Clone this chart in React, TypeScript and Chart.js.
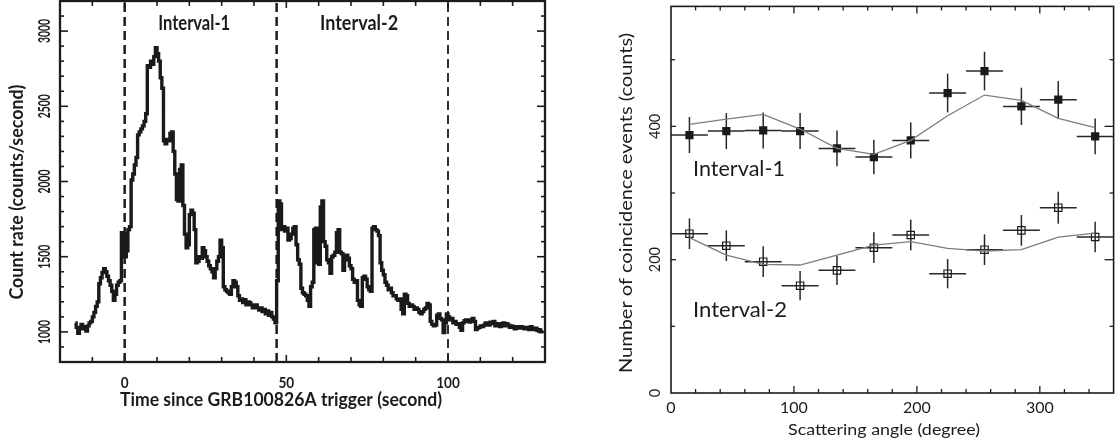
import React, { useEffect, useRef } from 'react';
import { Chart, registerables } from 'chart.js';
Chart.register(...registerables);

// ---------------- Left panel: light curve ----------------
const LC_FIRST_BIN_CENTER = -15.25; // seconds
const LC_BIN_WIDTH = 0.5; // seconds
const LC_RATE = [
  1060, 1030, 990, 1020, 1050, 1020, 1035, 1005, 1040, 1060, // -15 .. -11
  1070, 1100, 1130, 1170, 1200, 1320, 1360, 1395, 1420, 1400, // -10 .. -6
  1370, 1340, 1310, 1270, 1210, 1250, 1310, 1330, 1340, 1660, // -5 .. -1
  1650, 1500, 1540, 1680, 1700, 2010, 2050, 2110, 2160, 2310, // 0 .. 4
  2330, 2350, 2370, 2400, 2450, 2770, 2760, 2800, 2780, 2830, // 5 .. 9
  2890, 2850, 2800, 2690, 2620, 2270, 2250, 2280, 2270, 2320, // 10 .. 14
  2330, 2200, 2050, 1880, 1870, 2080, 2110, 1840, 1650, 1560, // 15 .. 19
  1580, 1780, 1810, 1790, 1680, 1460, 1470, 1500, 1490, 1560, // 20 .. 24
  1540, 1500, 1470, 1440, 1420, 1400, 1360, 1420, 1470, 1500, // 25 .. 29
  1610, 1560, 1300, 1280, 1270, 1260, 1250, 1300, 1340, 1330, // 30 .. 34
  1300, 1240, 1210, 1220, 1195, 1215, 1180, 1200, 1195, 1180, // 35 .. 39
  1160, 1175, 1180, 1160, 1145, 1160, 1135, 1150, 1120, 1140, // 40 .. 44
  1110, 1130, 1100, 1085, 1060, 1340, 1870, 1850, 1680, 1700, // 45 .. 49
  1670, 1690, 1610, 1620, 1650, 1690, 1700, 1580, 1480, 1450, // 50 .. 54
  1290, 1260, 1250, 1240, 1210, 1170, 1300, 1330, 1680, 1690, // 55 .. 59
  1460, 1450, 1830, 1870, 1600, 1570, 1480, 1460, 1390, 1500, // 60 .. 64
  1510, 1530, 1660, 1680, 1530, 1520, 1410, 1480, 1510, 1490, // 65 .. 69
  1440, 1420, 1350, 1330, 1340, 1210, 1180, 1170, 1360, 1370, // 70 .. 74
  1350, 1300, 1280, 1270, 1690, 1700, 1680, 1670, 1640, 1460, // 75 .. 79
  1410, 1380, 1330, 1310, 1280, 1290, 1260, 1240, 1240, 1220, // 80 .. 84
  1210, 1220, 1150, 1120, 1250, 1240, 1190, 1170, 1180, 1170, // 85 .. 89
  1150, 1160, 1150, 1130, 1120, 1135, 1150, 1160, 1190, 1180, // 90 .. 94
  1070, 1050, 1040, 1045, 1110, 1120, 1090, 1080, 995, 1060, // 95 .. 99
  1120, 1100, 1080, 1090, 1060, 1070, 1050, 1055, 1030, 1010, // 100 .. 104
  1060, 1075, 1080, 1070, 1065, 1080, 1090, 1070, 1015, 1025, // 105 .. 109
  1030, 1040, 1035, 1045, 1060, 1050, 1045, 1065, 1055, 1070, // 110 .. 114
  1040, 1050, 1055, 1035, 1045, 1060, 1040, 1055, 1045, 1030, // 115 .. 119
  1040, 1030, 1020, 1035, 1030, 1025, 1035, 1025, 1020, 1030, // 120 .. 124
  1025, 1015, 1035, 1020, 1015, 1025, 1010, 1015, 1000, 1010, // 125 .. 129
];
const INTERVAL_BOUNDS = [0, 47, 100];
const INTERVAL_NAMES = ['Interval-1', 'Interval-2'];
const LC_X_LABELS = [0, 50, 100];
const LC_Y_LABELS = [1000, 1500, 2000, 2500, 3000];
const LC_X_RANGE = [-20, 130];
const LC_Y_RANGE = [800, 3200];

// ---------------- Right panel: modulation curves ----------------
const ANGLES = [15, 45, 75, 105, 135, 165, 195, 225, 255, 285, 315, 345];
const ANGLE_HALF_BIN = 15;
const INT1_COUNTS = [387, 393, 394, 393, 367, 354, 379, 450, 483, 430, 440, 385];
const INT1_ERR = [27, 27, 27, 27, 27, 26, 27, 29, 29, 28, 28, 27];
const INT1_MODEL = [403, 411, 418, 396, 367, 358, 379, 416, 447, 439, 412, 398];
const INT2_COUNTS = [239, 221, 197, 161, 184, 218, 237, 179, 215, 244, 278, 234];
const INT2_ERR = [23, 23, 23, 22, 22, 23, 23, 22, 23, 23, 24, 23];
const INT2_MODEL = [233, 207, 193, 192, 207, 222, 227, 217, 213, 215, 234, 240];
const POL_X_LABELS = [0, 100, 200, 300];
const POL_Y_LABELS = [0, 200, 400];
const POL_X_RANGE = [0, 360];
const POL_Y_RANGE = [0, 580];

const INK = '#1e1b1c';

type TxtOpt = { align?: CanvasTextAlign; rot?: number; sx?: number; w?: number; color?: string };
function txt(ctx: CanvasRenderingContext2D, s: string, x: number, y: number, font: string, o: TxtOpt = {}) {
  ctx.save();
  ctx.font = font;
  ctx.translate(x, y);
  if (o.rot) ctx.rotate(o.rot);
  let sx = o.sx ?? 1;
  if (o.w) sx = o.w / ctx.measureText(s).width;
  ctx.scale(sx, 1);
  ctx.textAlign = o.align ?? 'center';
  ctx.textBaseline = 'alphabetic';
  ctx.fillStyle = o.color ?? INK;
  ctx.fillText(s, 0, 0);
  ctx.restore();
}
function seg(ctx: CanvasRenderingContext2D, x1: number, y1: number, x2: number, y2: number) {
  ctx.beginPath();
  ctx.moveTo(x1, y1);
  ctx.lineTo(x2, y2);
  ctx.stroke();
}

const lcDecor = {
  id: 'lcDecor',
  afterDraw(chart: any) {
    const { ctx, chartArea: a } = chart;
    const x = chart.scales.x;
    const y = chart.scales.y;
    ctx.save();
    ctx.strokeStyle = INK;
    ctx.lineWidth = 1.6;
    for (let t = -10; t < LC_X_RANGE[1]; t += 10) {
      const px = x.getPixelForValue(t);
      const L = t % 50 === 0 ? 7 : 5;
      seg(ctx, px, a.bottom, px, a.bottom - L);
      seg(ctx, px, a.top, px, a.top + L);
    }
    for (let v = 900; v < LC_Y_RANGE[1]; v += 100) {
      const py = y.getPixelForValue(v);
      const L = v % 500 === 0 ? 8 : 4;
      seg(ctx, a.left, py, a.left + L, py);
      seg(ctx, a.right, py, a.right - L, py);
    }
    ctx.lineWidth = 2.3;
    ctx.strokeRect(a.left, a.top, a.right - a.left, a.bottom - a.top);
    ctx.restore();

    for (const t of LC_X_LABELS) {
      txt(ctx, String(t), x.getPixelForValue(t), 388, 'bold 16px Lato', { sx: 0.85 });
    }
    for (const v of LC_Y_LABELS) {
      txt(ctx, String(v), 50, y.getPixelForValue(v), 'bold 17px Lato', { rot: -Math.PI / 2, w: 24 });
    }
    txt(ctx, 'Time since GRB100826A trigger (second)', 281, 406, 'bold 18px Lato', { w: 322 });
    txt(ctx, 'Count rate (counts/second)', 23, 192, 'bold 18px Lato', { rot: -Math.PI / 2, w: 215 });
    const mids = [x.getPixelForValue(21.5), x.getPixelForValue(72.5)];
    txt(ctx, INTERVAL_NAMES[0], mids[0], 30, 'bold 20px Lato', { w: 72 });
    txt(ctx, INTERVAL_NAMES[1], mids[1], 30, 'bold 20px Lato', { w: 78 });
  },
};

const polDecor = {
  id: 'polDecor',
  beforeDatasetsDraw(chart: any) {
    const { ctx } = chart;
    const x = chart.scales.x;
    const y = chart.scales.y;
    ctx.save();
    ctx.strokeStyle = '#2a2728';
    ctx.lineWidth = 1.5;
    const sets = [
      [INT1_COUNTS, INT1_ERR],
      [INT2_COUNTS, INT2_ERR],
    ];
    for (const [vals, errs] of sets) {
      ANGLES.forEach((ang, i) => {
        const px = x.getPixelForValue(ang);
        const py = y.getPixelForValue(vals[i]);
        seg(ctx, x.getPixelForValue(ang - ANGLE_HALF_BIN), py, x.getPixelForValue(ang + ANGLE_HALF_BIN), py);
        seg(ctx, px, y.getPixelForValue(vals[i] - errs[i]), px, y.getPixelForValue(vals[i] + errs[i]));
      });
    }
    ctx.restore();
  },
  afterDraw(chart: any) {
    const { ctx, chartArea: a } = chart;
    const x = chart.scales.x;
    const y = chart.scales.y;
    ctx.save();
    ctx.strokeStyle = INK;
    ctx.lineWidth = 1.3;
    for (let t = 20; t < POL_X_RANGE[1]; t += 20) {
      const px = x.getPixelForValue(t);
      const L = t % 100 === 0 ? 7 : 4;
      seg(ctx, px, a.bottom, px, a.bottom - L);
      seg(ctx, px, a.top, px, a.top + L);
    }
    for (let v = 100; v < POL_Y_RANGE[1]; v += 100) {
      const py = y.getPixelForValue(v);
      seg(ctx, a.left, py, a.left + (v % 200 === 0 ? 5 : 4), py);
      seg(ctx, a.right, py, a.right - (v % 200 === 0 ? 9 : 4), py);
    }
    ctx.lineWidth = 1.6;
    ctx.strokeRect(a.left, a.top, a.right - a.left, a.bottom - a.top);
    ctx.restore();

    for (const t of POL_X_LABELS) {
      txt(ctx, String(t), x.getPixelForValue(t), 413, '16px Lato');
    }
    for (const v of POL_Y_LABELS) {
      txt(ctx, String(v), 100, y.getPixelForValue(v), '16px Lato', { rot: -Math.PI / 2, sx: 0.9 });
    }
    txt(ctx, 'Scattering angle (degree)', 324, 435, '16px Lato', { w: 192 });
    txt(ctx, 'Number of coincidence events (counts)', 72, 203, '17px Lato', { rot: -Math.PI / 2, w: 340 });
    txt(ctx, INTERVAL_NAMES[0], 179, 176, '22px Lato', { w: 92 });
    txt(ctx, INTERVAL_NAMES[1], 180, 317, '22px Lato', { w: 94 });
  },
};

function LightCurve() {
  const ref = useRef<HTMLCanvasElement>(null);
  useEffect(() => {
    const curve = LC_RATE.map((v, i) => ({ x: LC_FIRST_BIN_CENTER + i * LC_BIN_WIDTH, y: v }));
    const dashed = INTERVAL_BOUNDS.map((b, i) => ({
      type: 'line' as const,
      data: [
        { x: b, y: LC_Y_RANGE[0] },
        { x: b, y: LC_Y_RANGE[1] },
      ],
      borderColor: INK,
      borderWidth: i === 2 ? 1.8 : 2.5,
      borderDash: [9, 5],
      pointRadius: 0,
    }));
    const chart = new Chart(ref.current!, {
      type: 'line',
      data: {
        datasets: [
          {
            data: curve,
            stepped: 'middle',
            borderColor: '#1a1a1a',
            borderWidth: 3.4,
            pointRadius: 0,
          } as any,
          ...dashed,
        ],
      },
      options: {
        responsive: false,
        animation: false,
        events: [],
        layout: { padding: { left: 60, right: 15, top: 1, bottom: 84 } },
        plugins: { legend: { display: false }, tooltip: { enabled: false } },
        scales: {
          x: { type: 'linear', min: LC_X_RANGE[0], max: LC_X_RANGE[1], display: false },
          y: { type: 'linear', min: LC_Y_RANGE[0], max: LC_Y_RANGE[1], display: false },
        },
      },
      plugins: [lcDecor],
    });
    return () => chart.destroy();
  }, []);
  return <canvas ref={ref} width={560} height={446} />;
}

function Modulation() {
  const ref = useRef<HTMLCanvasElement>(null);
  useEffect(() => {
    const pts = (vals: number[]) => ANGLES.map((a, i) => ({ x: a, y: vals[i] }));
    const chart = new Chart(ref.current!, {
      type: 'line',
      data: {
        datasets: [
          { data: pts(INT1_MODEL), borderColor: '#7d7d7d', borderWidth: 1.3, pointRadius: 0 },
          { data: pts(INT2_MODEL), borderColor: '#7d7d7d', borderWidth: 1.3, pointRadius: 0 },
          {
            data: pts(INT1_COUNTS),
            showLine: false,
            pointStyle: 'rect',
            pointRadius: 5.8,
            pointBackgroundColor: '#1a1a1a',
            pointBorderWidth: 0,
          },
          {
            data: pts(INT2_COUNTS),
            showLine: false,
            pointStyle: 'rect',
            pointRadius: 5.2,
            pointBackgroundColor: 'rgba(255,255,255,0)',
            pointBorderColor: '#1a1a1a',
            pointBorderWidth: 1.2,
          },
        ],
      },
      options: {
        responsive: false,
        animation: false,
        events: [],
        layout: { padding: { left: 111, right: 2, top: 1, bottom: 53 } },
        plugins: { legend: { display: false }, tooltip: { enabled: false } },
        scales: {
          x: { type: 'linear', min: POL_X_RANGE[0], max: POL_X_RANGE[1], display: false },
          y: { type: 'linear', min: POL_Y_RANGE[0], max: POL_Y_RANGE[1], display: false },
        },
      },
      plugins: [polDecor],
    });
    return () => chart.destroy();
  }, []);
  return <canvas ref={ref} width={560} height={446} />;
}

export default function App() {
  return (
    <div style={{ position: 'fixed', left: 0, top: 0, width: 1120, height: 446, background: '#fff' }}>
      <div style={{ position: 'absolute', left: 0, top: 0, width: 560, height: 446 }}>
        <LightCurve />
      </div>
      <div style={{ position: 'absolute', left: 560, top: 0, width: 560, height: 446 }}>
        <Modulation />
      </div>
    </div>
  );
}
